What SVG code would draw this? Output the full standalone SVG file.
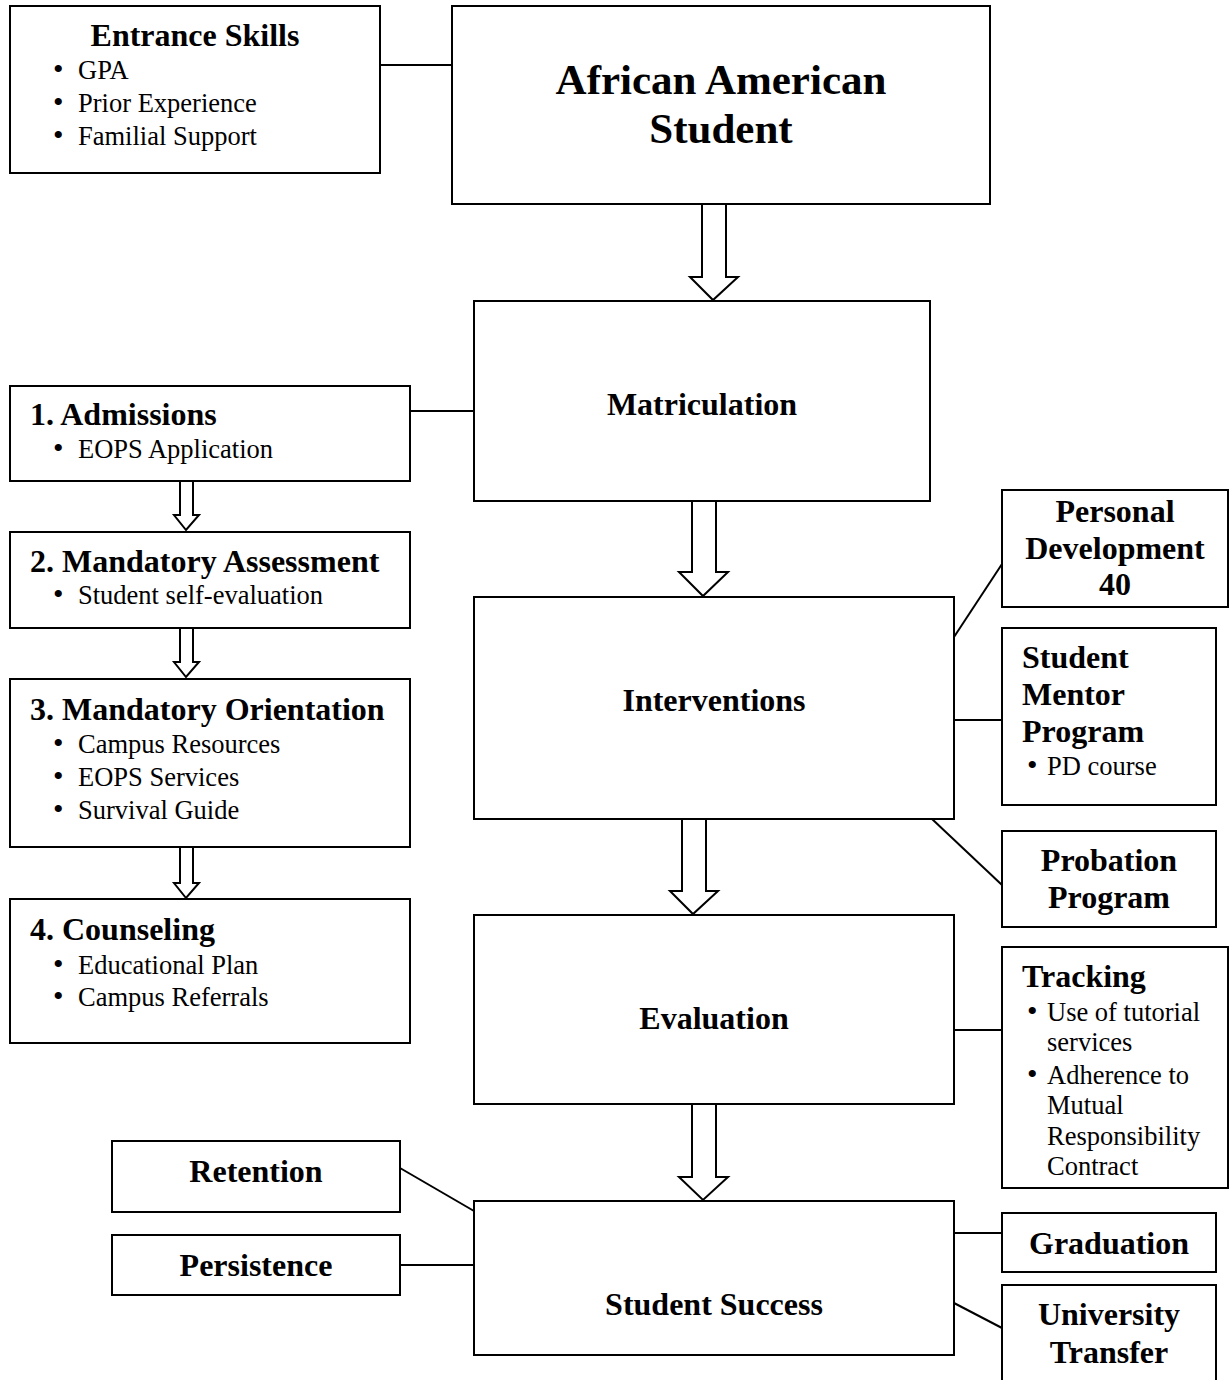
<svg xmlns="http://www.w3.org/2000/svg" width="1232" height="1380" viewBox="0 0 1232 1380">
<style>
.box{fill:#fff;stroke:#000;stroke-width:2}
.ln{fill:none;stroke:#000;stroke-width:2}
.arr{fill:#fff;stroke:#000;stroke-width:2;stroke-linejoin:miter}
text{font-family:"Liberation Serif","Times New Roman",serif;fill:#000}
.t{font-weight:bold;font-size:32px}
.big{font-weight:bold;font-size:43px}
.b{font-size:26.5px}
.u{font-size:30px}
.c{text-anchor:middle}
</style>
<rect width="1232" height="1380" fill="#fff"/>
<g id="connectors">
<line class="ln" x1="380" y1="65" x2="452" y2="65"/>
<line class="ln" x1="410" y1="411" x2="474" y2="411"/>
<line class="ln" x1="954" y1="637" x2="1002" y2="564"/>
<line class="ln" x1="954" y1="720" x2="1002" y2="720"/>
<line class="ln" x1="932" y1="819" x2="1002" y2="885"/>
<line class="ln" x1="954" y1="1030" x2="1002" y2="1030"/>
<line class="ln" x1="400" y1="1168" x2="474" y2="1211"/>
<line class="ln" x1="400" y1="1265" x2="474" y2="1265"/>
<line class="ln" x1="954" y1="1233" x2="1002" y2="1233"/>
<line class="ln" x1="954" y1="1303" x2="1002" y2="1328"/>
<path class="arr" d="M702,204 V277 H690 L713,300 L738,277 H726 V204 Z"/>
<path class="arr" d="M692,501 V572 H679 L703,596 L728,572 H716 V501 Z"/>
<path class="arr" d="M682,819 V891 H670 L693,914 L718,891 H706 V819 Z"/>
<path class="arr" d="M692,1104 V1177 H679 L703,1200 L728,1177 H716 V1104 Z"/>
<path class="arr" d="M180,481 V515 H174 L186,530 L199,515 H193 V481 Z"/>
<path class="arr" d="M180,628 V662 H174 L186,677 L199,662 H193 V628 Z"/>
<path class="arr" d="M180,847 V883 H174 L186,898 L199,883 H193 V847 Z"/>
</g>
<g id="entrance-skills">
<rect class="box" x="10" y="6" width="370" height="167"/>
<text class="t c" x="195" y="46">Entrance Skills</text>
<text class="b" x="53" y="79"><tspan class="u">•</tspan><tspan x="78">GPA</tspan></text>
<text class="b" x="53" y="112"><tspan class="u">•</tspan><tspan x="78">Prior Experience</tspan></text>
<text class="b" x="53" y="145"><tspan class="u">•</tspan><tspan x="78">Familial Support</tspan></text>
</g>
<g id="african-american-student">
<rect class="box" x="452" y="6" width="538" height="198"/>
<text class="big c" x="721" y="94">African American</text>
<text class="big c" x="721" y="143">Student</text>
</g>
<g id="matriculation">
<rect class="box" x="474" y="301" width="456" height="200"/>
<text class="t c" x="702" y="415">Matriculation</text>
</g>
<g id="admissions">
<rect class="box" x="10" y="386" width="400" height="95"/>
<text class="t" x="30" y="425">1. Admissions</text>
<text class="b" x="53" y="458"><tspan class="u">•</tspan><tspan x="78">EOPS Application</tspan></text>
</g>
<g id="mandatory-assessment">
<rect class="box" x="10" y="532" width="400" height="96"/>
<text class="t" x="30" y="572">2. Mandatory Assessment</text>
<text class="b" x="53" y="604"><tspan class="u">•</tspan><tspan x="78">Student self-evaluation</tspan></text>
</g>
<g id="mandatory-orientation">
<rect class="box" x="10" y="679" width="400" height="168"/>
<text class="t" x="30" y="720">3. Mandatory Orientation</text>
<text class="b" x="53" y="753"><tspan class="u">•</tspan><tspan x="78">Campus Resources</tspan></text>
<text class="b" x="53" y="786"><tspan class="u">•</tspan><tspan x="78">EOPS Services</tspan></text>
<text class="b" x="53" y="819"><tspan class="u">•</tspan><tspan x="78">Survival Guide</tspan></text>
</g>
<g id="counseling">
<rect class="box" x="10" y="899" width="400" height="144"/>
<text class="t" x="30" y="940">4. Counseling</text>
<text class="b" x="53" y="974"><tspan class="u">•</tspan><tspan x="78">Educational Plan</tspan></text>
<text class="b" x="53" y="1006"><tspan class="u">•</tspan><tspan x="78">Campus Referrals</tspan></text>
</g>
<g id="interventions">
<rect class="box" x="474" y="597" width="480" height="222"/>
<text class="t c" x="714" y="711">Interventions</text>
</g>
<g id="personal-development">
<rect class="box" x="1002" y="490" width="226" height="117"/>
<text class="t c" x="1115" y="522">Personal</text>
<text class="t c" x="1115" y="559">Development</text>
<text class="t c" x="1115" y="595">40</text>
</g>
<g id="student-mentor-program">
<rect class="box" x="1002" y="628" width="214" height="177"/>
<text class="t" x="1022" y="668">Student</text>
<text class="t" x="1022" y="705">Mentor</text>
<text class="t" x="1022" y="742">Program</text>
<text class="b" x="1027" y="775"><tspan class="u">•</tspan><tspan x="1047">PD course</tspan></text>
</g>
<g id="probation-program">
<rect class="box" x="1002" y="831" width="214" height="96"/>
<text class="t c" x="1109" y="871">Probation</text>
<text class="t c" x="1109" y="908">Program</text>
</g>
<g id="evaluation">
<rect class="box" x="474" y="915" width="480" height="189"/>
<text class="t c" x="714" y="1029">Evaluation</text>
</g>
<g id="tracking">
<rect class="box" x="1002" y="947" width="226" height="241"/>
<text class="t" x="1022" y="987">Tracking</text>
<text class="b" x="1027" y="1021"><tspan class="u">•</tspan><tspan x="1047">Use of tutorial</tspan></text>
<text class="b" x="1047" y="1051">services</text>
<text class="b" x="1027" y="1084"><tspan class="u">•</tspan><tspan x="1047">Adherence to</tspan></text>
<text class="b" x="1047" y="1114">Mutual</text>
<text class="b" x="1047" y="1145">Responsibility</text>
<text class="b" x="1047" y="1175">Contract</text>
</g>
<g id="retention">
<rect class="box" x="112" y="1141" width="288" height="71"/>
<text class="t c" x="256" y="1182">Retention</text>
</g>
<g id="persistence">
<rect class="box" x="112" y="1235" width="288" height="60"/>
<text class="t c" x="256" y="1276">Persistence</text>
</g>
<g id="student-success">
<rect class="box" x="474" y="1201" width="480" height="154"/>
<text class="t c" x="714" y="1315">Student Success</text>
</g>
<g id="graduation">
<rect class="box" x="1002" y="1213" width="214" height="59"/>
<text class="t c" x="1109" y="1254">Graduation</text>
</g>
<g id="university-transfer">
<rect class="box" x="1002" y="1285" width="214" height="110"/>
<text class="t c" x="1109" y="1325">University</text>
<text class="t c" x="1109" y="1363">Transfer</text>
</g>
</svg>
